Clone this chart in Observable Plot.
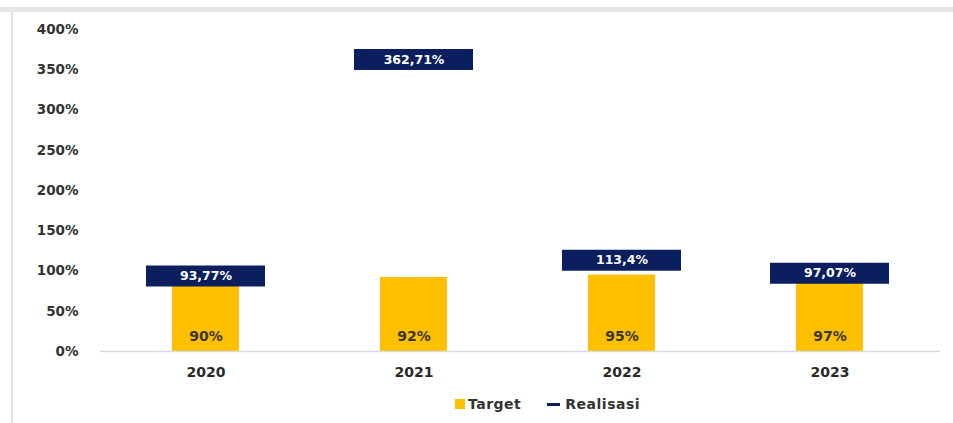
<!DOCTYPE html>
<html>
<head>
<meta charset="utf-8">
<script src="https://cdn.jsdelivr.net/npm/d3@7"></script>
<script src="https://cdn.jsdelivr.net/npm/@observablehq/plot@0.6"></script>
<style>
  html, body { margin: 0; padding: 0; background: #fff; }
  #wrap { position: relative; width: 953px; height: 423px; overflow: hidden; font-family: "DejaVu Sans", sans-serif; }
  #topband { position: absolute; left: 0; top: 7px; width: 953px; height: 5px; background: #e6e6e6; }
  #leftline { position: absolute; left: 11px; top: 12px; width: 2px; height: 411px; background: #e2e2e2; }
  #chart { position: absolute; left: 0; top: 0; }
  #legend { position: absolute; top: 396px; left: 455px; font-weight: bold; font-size: 14px; color: #333; display: flex; align-items: center; letter-spacing: 0.5px; }
  .sw { display: inline-block; width: 10px; height: 10px; background: #FFC000; margin-right: 3px; }
  .ln { display: inline-block; width: 13px; height: 3px; background: #0B1F5E; margin-right: 5px; margin-left: 26px; }
</style>
</head>
<body>
<div id="wrap">
  <div id="topband"></div>
  <div id="leftline"></div>
  <div id="chart"></div>
  <div id="legend"><span class="sw"></span>Target<span class="ln"></span>Realisasi</div>
</div>
<script>
const years = ["2020", "2021", "2022", "2023"];
const target = [90, 92, 95, 97];
const realisasi = [93.77, 362.71, 113.4, 97.07];
const realisasiLabels = ["93,77%", "362,71%", "113,4%", "97,07%"];
const yTicks = [0, 50, 100, 150, 200, 250, 300, 350, 400];

const data = years.map((y, i) => ({year: y, target: target[i], real: realisasi[i], realLabel: realisasiLabels[i]}));

const chart = Plot.plot({
  width: 953,
  height: 390,
  marginLeft: 100,
  marginRight: 18,
  marginTop: 29,
  marginBottom: 39,
  style: {fontFamily: "DejaVu Sans, sans-serif", background: "transparent"},
  x: {domain: years, paddingInner: 0.68, paddingOuter: 0.34, label: null},
  y: {domain: [0, 400], label: null},
  marks: [
    Plot.axisY({ticks: yTicks, tickSize: 0, tickPadding: 22, tickFormat: d => d + "%", label: null,
      fontSize: 13.5, fontWeight: "bold", fill: "#333", style: {letterSpacing: "1.5px"}}),
    Plot.axisX({tickSize: 0, tickPadding: 16, label: null, fontSize: 14, fontWeight: "bold", fill: "#2a2a2a", style: {letterSpacing: "1px"}}),
    Plot.barY(data, {x: "year", y: "target", fill: "#FFC000"}),
    Plot.ruleY([0], {stroke: "#d9d9d9", strokeWidth: 1.5, insetRight: -5}),
    Plot.text(data, {x: "year", y: () => 0, dy: -15, text: d => d.target + "%", fill: "#3b3526",
      fontSize: 14, fontWeight: "bold", style: {letterSpacing: "1px"}}),
    Plot.tickY(data, {x: "year", y: "real", stroke: "#0B1F5E", strokeWidth: 21, insetLeft: -26, insetRight: -26}),
    Plot.text(data, {x: "year", y: "real", text: "realLabel", fill: "#fff", fontSize: 12.5, fontWeight: "bold",
      style: {letterSpacing: "1px"}})
  ]
});
document.getElementById("chart").appendChild(chart);
</script>
</body>
</html>
